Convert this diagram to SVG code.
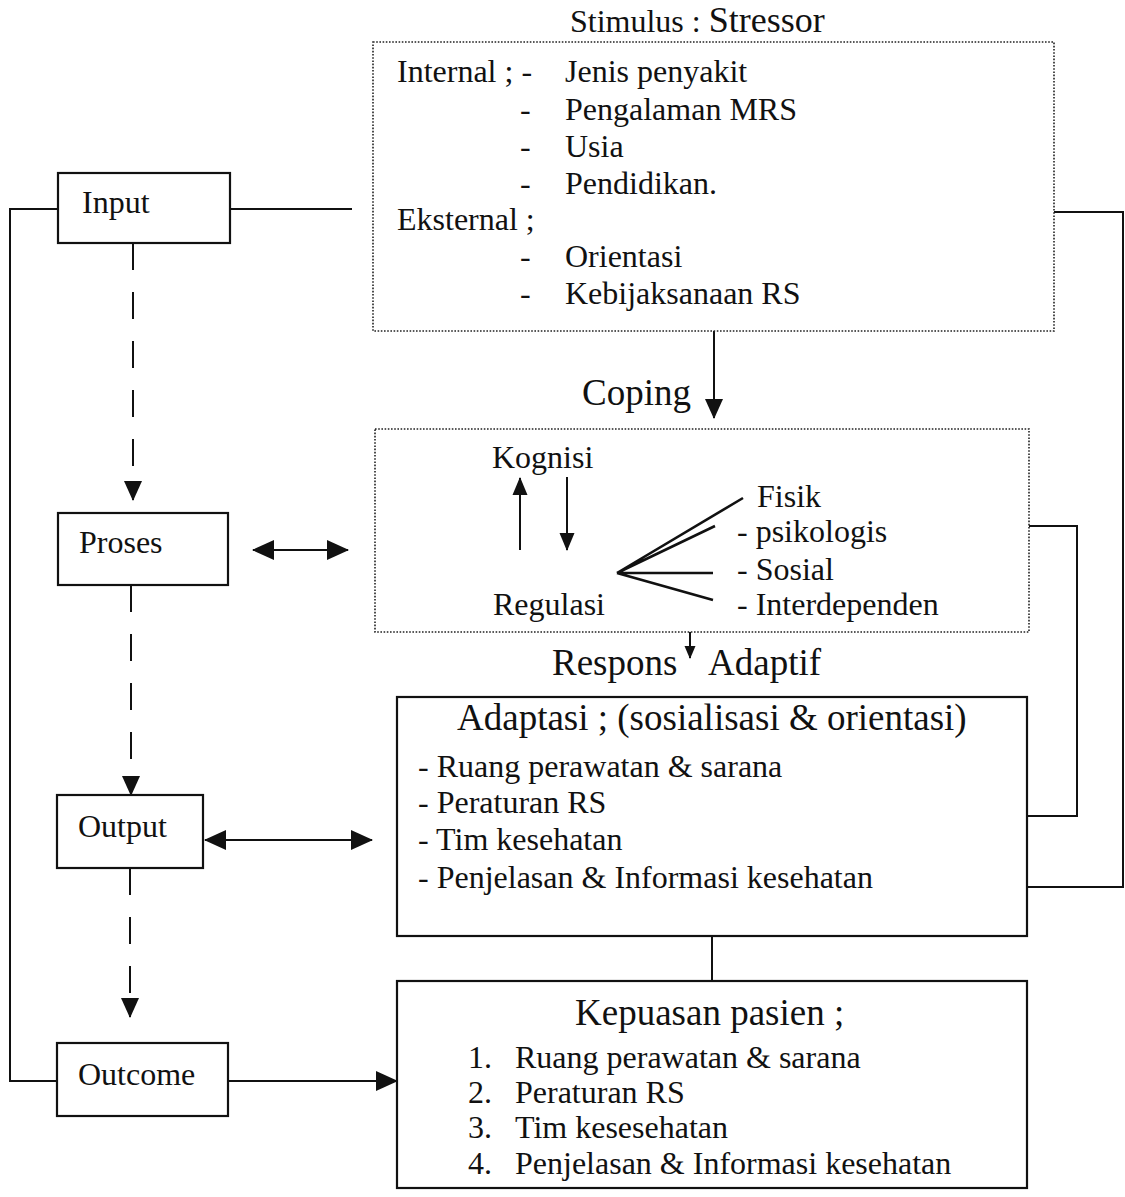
<svg xmlns="http://www.w3.org/2000/svg" width="1125" height="1197" viewBox="0 0 1125 1197">
<defs>
<marker id="ah" markerUnits="userSpaceOnUse" markerWidth="22" markerHeight="22" refX="21" refY="11" orient="auto-start-reverse">
<path d="M0,1 L22,11 L0,21 z" fill="#111"/>
</marker>
<marker id="ahs" markerUnits="userSpaceOnUse" markerWidth="20" markerHeight="20" refX="19" refY="10" orient="auto">
<path d="M0,1 L20,10 L0,19 z" fill="#111"/>
</marker>
<marker id="ahm" markerUnits="userSpaceOnUse" markerWidth="18" markerHeight="18" refX="17" refY="9" orient="auto">
<path d="M0,1.5 L18,9 L0,16.5 z" fill="#111"/>
</marker>
<marker id="aht" markerUnits="userSpaceOnUse" markerWidth="13" markerHeight="13" refX="12" refY="6.5" orient="auto">
<path d="M0,1 L13,6.5 L0,12 z" fill="#111"/>
</marker>
</defs>
<style>
text{font-family:"Liberation Serif","Times New Roman",serif;fill:#111;font-size:32px}
.h{font-size:37px}
.box{fill:none;stroke:#111;stroke-width:2.2}
.dot{fill:none;stroke:#222;stroke-width:1.6;stroke-dasharray:1.6 1.6}
.ln{fill:none;stroke:#111;stroke-width:2}
.dash{fill:none;stroke:#111;stroke-width:2;stroke-dasharray:27 22}
</style>
<rect width="1125" height="1197" fill="#fff"/>

<g id="connectors">
<path class="ln" d="M58,209 H10 V1081 H57"/>
<path class="ln" d="M230,209 H352"/>
<path class="ln" d="M1054,212 H1123 V887 H1027"/>
<path class="ln" d="M1029,526 H1077 V816 H1027"/>
<path class="dash" d="M133,243 V500" marker-end="url(#ahs)"/>
<path class="dash" d="M131,585 V795" marker-end="url(#ahs)"/>
<path class="dash" d="M130,868 V1017" marker-end="url(#ahs)"/>
<path class="ln" d="M253,550 H348" stroke-width="2.5" marker-start="url(#ah)" marker-end="url(#ah)"/>
<path class="ln" d="M205,840 H372" stroke-width="2.5" marker-start="url(#ah)" marker-end="url(#ah)"/>
<path class="ln" d="M228,1081 H397" stroke-width="2.5" marker-end="url(#ah)"/>
<path class="ln" d="M714,331 V418" marker-end="url(#ahs)"/>
<path class="ln" d="M690,632 V658" marker-end="url(#aht)"/>
<path class="ln" d="M712,936 V981"/>
</g>

<g id="input">
<rect class="box" x="58" y="173" width="172" height="70"/>
<text x="82" y="213" font-size="31">Input</text>
</g>
<g id="proses">
<rect class="box" x="58" y="513" width="170" height="72"/>
<text x="79" y="553" font-size="31">Proses</text>
</g>
<g id="output">
<rect class="box" x="57" y="795" width="146" height="73"/>
<text x="78" y="837" font-size="31">Output</text>
</g>
<g id="outcome">
<rect class="box" x="57" y="1043" width="171" height="73"/>
<text x="78" y="1085" font-size="31">Outcome</text>
</g>

<g id="stimulus">
<text x="570" y="32" font-size="32">Stimulus : <tspan font-size="36">Stressor</tspan></text>
<rect class="dot" x="373" y="42" width="681" height="289"/>
<text x="397" y="82">Internal ; -</text>
<text x="565" y="82">Jenis penyakit</text>
<text x="520" y="120">-</text>
<text x="565" y="120">Pengalaman MRS</text>
<text x="520" y="157">-</text>
<text x="565" y="157">Usia</text>
<text x="520" y="194">-</text>
<text x="565" y="194">Pendidikan.</text>
<text x="397" y="230">Eksternal ;</text>
<text x="520" y="267">-</text>
<text x="565" y="267">Orientasi</text>
<text x="520" y="304">-</text>
<text x="565" y="304">Kebijaksanaan RS</text>
</g>

<g id="coping">
<text class="h" x="582" y="405">Coping</text>
<rect class="dot" x="375" y="429" width="654" height="203"/>
<text x="492" y="468">Kognisi</text>
<text x="493" y="615">Regulasi</text>
<path class="ln" d="M520,550 V478" marker-end="url(#ahm)"/>
<path class="ln" d="M567,477 V550" marker-end="url(#ahm)"/>
<path fill="none" stroke="#111" stroke-width="2.6" d="M617,573 L743,498 M617,573 L715,526 M617,573 H713 M617,573 L713,600"/>
<text x="757" y="507">Fisik</text>
<text x="737" y="542">- psikologis</text>
<text x="737" y="580">- Sosial</text>
<text x="737" y="615">- Interdependen</text>
</g>

<g id="adaptasi">
<text class="h" x="552" y="675">Respons</text>
<text class="h" x="708" y="675">Adaptif</text>
<rect class="box" x="397" y="697" width="630" height="239"/>
<text class="h" x="457" y="730">Adaptasi ; (sosialisasi &amp; orientasi)</text>
<text x="418" y="777">- Ruang perawatan &amp; sarana</text>
<text x="418" y="813">- Peraturan RS</text>
<text x="418" y="850">- Tim kesehatan</text>
<text x="418" y="888">- Penjelasan &amp; Informasi kesehatan</text>
</g>

<g id="kepuasan">
<rect class="box" x="397" y="981" width="630" height="207"/>
<text class="h" x="575" y="1025">Kepuasan pasien ;</text>
<text x="468" y="1068">1.</text>
<text x="515" y="1068">Ruang perawatan &amp; sarana</text>
<text x="468" y="1103">2.</text>
<text x="515" y="1103">Peraturan RS</text>
<text x="468" y="1138">3.</text>
<text x="515" y="1138">Tim kesesehatan</text>
<text x="468" y="1174">4.</text>
<text x="515" y="1174">Penjelasan &amp; Informasi kesehatan</text>
</g>
</svg>
